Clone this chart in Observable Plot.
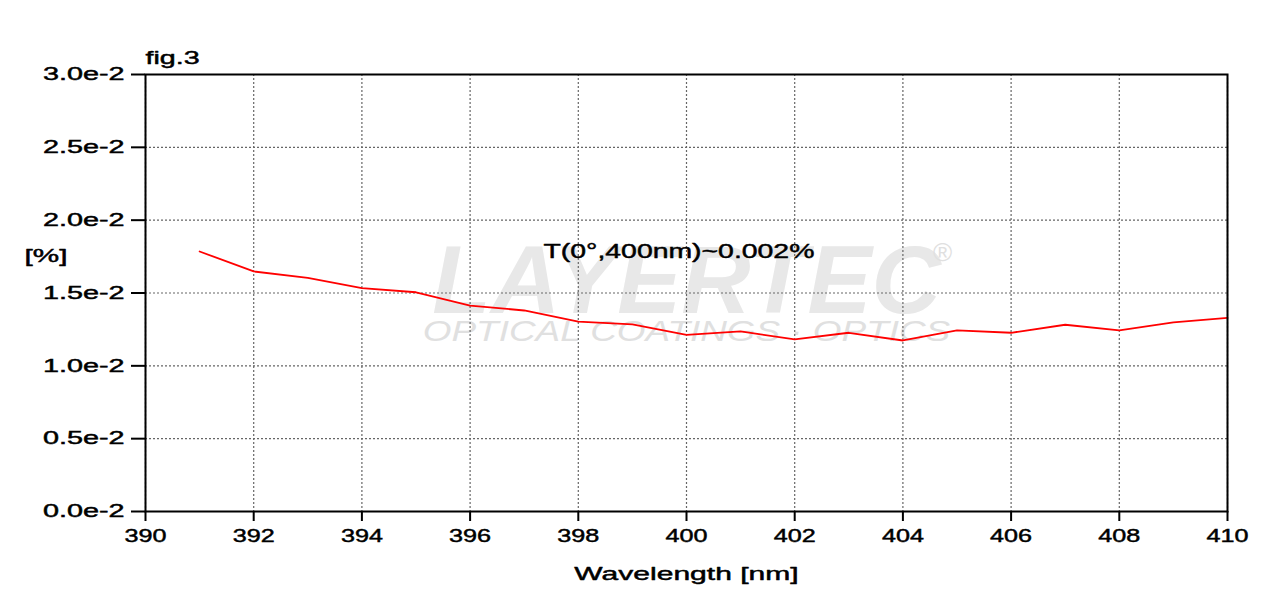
<!DOCTYPE html>
<html>
<head>
<meta charset="utf-8">
<script src="https://cdn.jsdelivr.net/npm/d3@7"></script>
<script src="https://cdn.jsdelivr.net/npm/@observablehq/plot@0.6"></script>
<style>
  html, body { margin: 0; padding: 0; background: #fff; }
</style>
</head>
<body>
<div id="chart"></div>
<script>
// ---- data ----
const wavelengths = [391, 392, 393, 394, 395, 396, 397, 398, 399, 400, 401, 402, 403, 404, 405, 406, 407, 408, 409, 410];
const transmission = [0.01785, 0.01648, 0.01604, 0.01533, 0.01505, 0.01414, 0.01380, 0.01304, 0.01284, 0.01213,
                      0.01236, 0.01181, 0.01227, 0.01174, 0.01243, 0.01227, 0.01282, 0.01243, 0.01298, 0.01329];
const xTicks = [390, 392, 394, 396, 398, 400, 402, 404, 406, 408, 410];
const yTicks = [0, 0.005, 0.01, 0.015, 0.02, 0.025, 0.03];
const yTickLabels = ["0.0e-2", "0.5e-2", "1.0e-2", "1.5e-2", "2.0e-2", "2.5e-2", "3.0e-2"];
const figTitle = "fig.3";
const yLabel = "[%]";
const xLabel = "Wavelength [nm]";
const annotation = "T(0°,400nm)~0.002%";
const watermark = "LAYERTEC";
const watermarkSub = "OPTICAL COATINGS · OPTICS";

const data = wavelengths.map((w, i) => ({wavelength: w, value: transmission[i]}));

const txt = {text: d => d, lineAnchor: "middle", stroke: "#000", strokeWidth: 0.45, fill: "#000"};

const plot = Plot.plot({
  width: 1264,
  height: 612,
  marginLeft: 145,
  marginRight: 37,
  marginTop: 74,
  marginBottom: 101,
  style: {fontFamily: "'Liberation Sans', Arial, sans-serif", fontSize: "18px", background: "#fff", color: "#000"},
  x: {domain: [390, 410]},
  y: {domain: [0, 0.03]},
  marks: [
    // watermark
    Plot.text([watermark], {frameAnchor: "top", dx: 0, dy: 208, text: d => d, lineAnchor: "middle", fontSize: 96,
      fontWeight: 900, fontStyle: "italic", fill: "#e8e8e8", textAnchor: "middle"}),
    Plot.text([watermarkSub], {frameAnchor: "top", dx: 0, dy: 257, text: d => d, lineAnchor: "middle", fontSize: 30,
      fontWeight: 200, fontStyle: "italic", fill: "#e0e0e0", textAnchor: "middle"}),
    Plot.text(["®"], {frameAnchor: "top-left", dx: 797, dy: 178, text: d => d, lineAnchor: "middle", fontSize: 26,
      fill: "#e0e0e0", textAnchor: "middle"}),
    // grid
    Plot.gridX(xTicks, {stroke: "#666", strokeOpacity: 1, strokeWidth: 1.2, strokeDasharray: "2,2"}),
    Plot.gridY(yTicks, {stroke: "#666", strokeOpacity: 1, strokeWidth: 1.2, strokeDasharray: "2,2"}),
    // series
    Plot.line(data, {x: "wavelength", y: "value", stroke: "#f00", strokeWidth: 1.8}),
    // annotation
    Plot.text([annotation], {...txt, frameAnchor: "top-left", dx: 398, dy: 177, fontSize: 20, textAnchor: "start"}),
    // frame and axes
    Plot.frame({stroke: "#000", strokeWidth: 2}),
    Plot.axisY({ticks: yTicks, tickFormat: d => yTickLabels[yTicks.indexOf(d)], tickSize: 14, tickPadding: 7,
      strokeWidth: 2, label: null, fontSize: 18}),
    Plot.axisX({ticks: xTicks, tickFormat: d => String(d), tickSize: 10, tickPadding: 8,
      strokeWidth: 2, label: null, fontSize: 18}),
    // titles
    Plot.text([figTitle], {...txt, frameAnchor: "top-left", dx: 0, dy: -16, fontSize: 18, textAnchor: "start"}),
    Plot.text([yLabel], {...txt, frameAnchor: "top-left", dx: -121, dy: 182, fontSize: 18, textAnchor: "start"}),
    Plot.text([xLabel], {...txt, frameAnchor: "bottom", dx: 0, dy: 63, fontSize: 18, textAnchor: "middle"})
  ]
});

document.getElementById("chart").appendChild(plot);

// Axis tick labels: slightly heavier strokes like the reference
plot.querySelectorAll('[aria-label="y-axis tick label"] text, [aria-label="x-axis tick label"] text').forEach(t => {
  t.setAttribute("stroke", "#000");
  t.setAttribute("stroke-width", "0.45");
});

// The reference's lettering is horizontally stretched; reproduce it with a scale about each text's anchor.
function stretchEl(t, s) {
  let tr = t.getAttribute("transform");
  if (!tr) {
    const x = +(t.getAttribute("x") || 0), y = +(t.getAttribute("y") || 0);
    t.removeAttribute("x"); t.removeAttribute("y");
    tr = `translate(${x},${y})`;
  }
  t.setAttribute("transform", tr + ` scale(${s},1)`);
}
plot.querySelectorAll('[aria-label="y-axis tick label"] text').forEach(t => stretchEl(t, 1.6));
plot.querySelectorAll('[aria-label="x-axis tick label"] text').forEach(t => stretchEl(t, 1.4));
const textStretch = new Map([[annotation, 1.42], [figTitle, 1.59], [yLabel, 1.65], [xLabel, 1.67], [watermarkSub, 1.23]]);
plot.querySelectorAll("text").forEach(t => {
  const s = textStretch.get(t.textContent);
  if (s) stretchEl(t, s);
});
</script>
</body>
</html>
